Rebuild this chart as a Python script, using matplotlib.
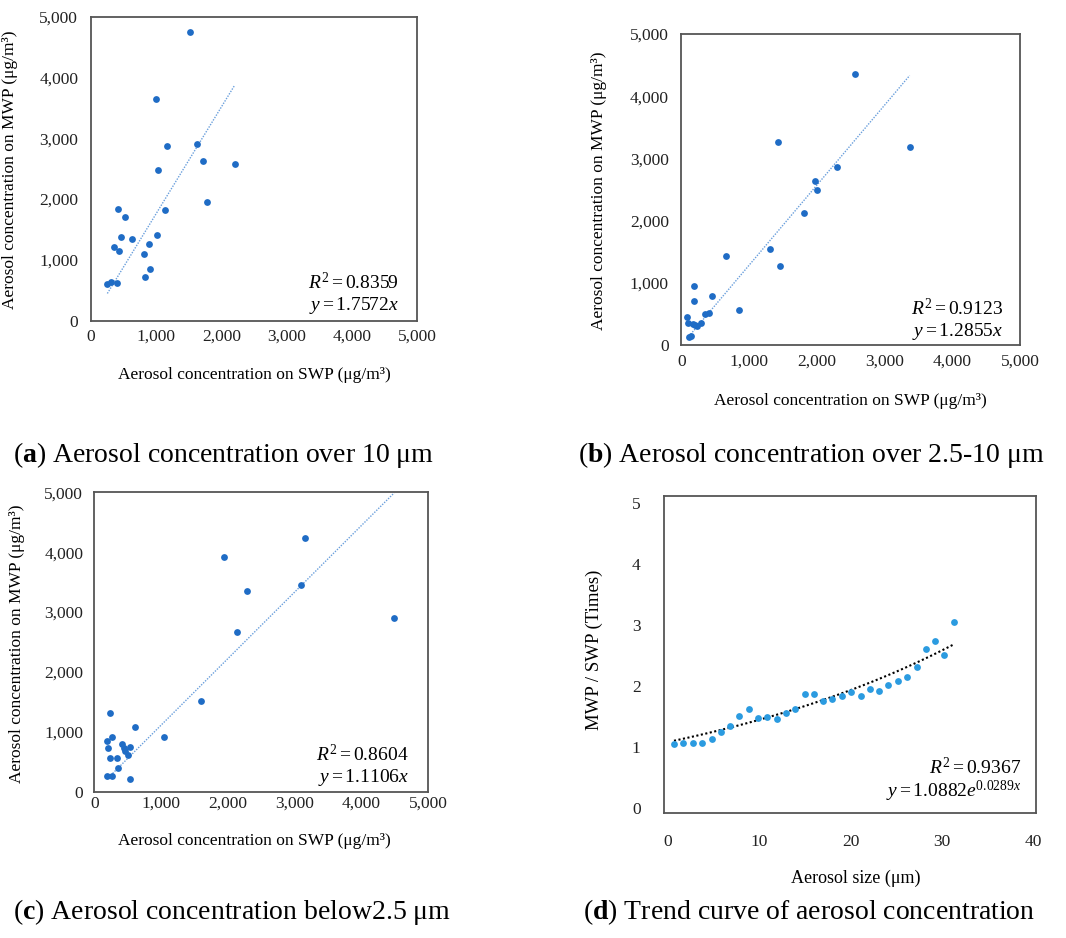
import matplotlib
matplotlib.use('Agg')
import matplotlib.pyplot as plt
from matplotlib.ticker import FuncFormatter
import numpy as np

plt.rcParams['font.family'] = ['Liberation Serif', 'DejaVu Serif']
plt.rcParams['mathtext.fontset'] = 'custom'
plt.rcParams['mathtext.rm'] = 'Liberation Serif'
plt.rcParams['mathtext.it'] = 'Liberation Serif:italic'
plt.rcParams['mathtext.bf'] = 'Liberation Serif:bold'

# (a) over 10 um
a_swp = [1520, 1000, 1173, 1633, 1714, 2204, 1026, 1786, 1133, 418, 531, 469,
         633, 1010, 898, 357, 429, 811, 908, 837, 255, 316, 398]
a_mwp = [4742, 3646, 2873, 2900, 2621, 2582, 2473, 1952, 1820, 1837, 1711, 1376,
         1349, 1404, 1266, 1206, 1146, 1096, 850, 724, 598, 641, 625]
a_slope, a_r2 = 1.7572, 0.8359

# (b) 2.5-10 um
b_swp = [2559, 1427, 3371, 2293, 1978, 2003, 1811, 1309, 655, 1452, 182, 458,
         192, 856, 404, 344, 84, 290, 94, 167, 226, 200, 138, 113]
b_mwp = [4352, 3260, 3180, 2869, 2645, 2489, 2125, 1547, 1435, 1279, 953, 798,
         717, 573, 519, 498, 460, 364, 353, 343, 316, 330, 150, 139]
b_slope, b_r2 = 1.2855, 0.9123

# (c) below 2.5 um
c_swp = [3151, 1950, 3090, 2281, 4492, 2136, 1603, 241, 603, 1050, 261, 186,
         412, 211, 538, 447, 457, 508, 231, 337, 362, 186, 266, 533]
c_mwp = [4232, 3925, 3458, 3357, 2901, 2661, 1514, 1308, 1075, 919, 913, 852,
         796, 729, 746, 724, 685, 607, 557, 557, 401, 262, 262, 206]
c_slope, c_r2 = 1.1106, 0.8604

# (d) ratio vs size
d_size = [0.66, 1.69, 2.72, 3.75, 4.78, 5.81, 6.81, 7.80, 8.83, 9.86, 10.89,
          11.89, 12.95, 13.95, 14.98, 15.97, 17.0, 17.99, 19.02, 20.05, 21.09,
          22.12, 23.15, 24.14, 25.17, 26.2, 27.23, 28.22, 29.25, 30.28, 31.28]
d_ratio = [1.05, 1.07, 1.08, 1.07, 1.14, 1.25, 1.35, 1.51, 1.63, 1.48, 1.49,
           1.46, 1.56, 1.63, 1.87, 1.87, 1.76, 1.79, 1.84, 1.90, 1.85,
           1.95, 1.92, 2.02, 2.08, 2.15, 2.31, 2.62, 2.74, 2.51, 3.05]
d_a, d_b, d_r2 = 1.0882, 0.0289, 0.9367

W, H = 1066, 938
fig = plt.figure(figsize=(W / 100, H / 100), dpi=100)


def box(x0, y0, x1, y1):
    return [x0 / W, 1 - y1 / H, (x1 - x0) / W, (y1 - y0) / H]


def fx(px, py):
    return px / W, 1 - py / H


dot_col = '#1f6cc5'
line_col = '#6a9fdc'
spine_col = '#555555'
comma = FuncFormatter(lambda v, p: f'{v:,.0f}')


def conc_panel(rect, swp, mwp, slope, r2, xpad, ypad, xl, yl, ann):
    ax = fig.add_axes(rect)
    ax.scatter(swp, mwp, s=24, color=dot_col, zorder=3, linewidths=0)
    xs = np.array([min(swp), max(swp)])
    ax.plot(xs, slope * xs, color=line_col, linestyle=(0, (1, 1)), lw=1.0)
    ax.set_xlim(0, 5000)
    ax.set_ylim(0, 5000)
    ax.set_xticks(range(0, 5001, 1000))
    ax.set_yticks(range(0, 5001, 1000))
    ax.xaxis.set_major_formatter(comma)
    ax.yaxis.set_major_formatter(comma)
    ax.tick_params(axis='x', length=0, pad=xpad, labelsize=12.5, colors='#222222')
    ax.tick_params(axis='y', length=0, pad=ypad, labelsize=12.5, colors='#222222')
    for s in ax.spines.values():
        s.set_color(spine_col)
        s.set_linewidth(1.3)
    ax.set_xlabel('Aerosol concentration on SWP (μg/m³)', fontsize=12.5)
    ax.set_ylabel('Aerosol concentration on MWP (μg/m³)', fontsize=12.5)
    ax.xaxis.set_label_coords(*fx(*xl), transform=fig.transFigure)
    ax.yaxis.set_label_coords(*fx(*yl), transform=fig.transFigure)
    fig.text(*fx(ann[0], ann[1]), r'$R^2 = %.4f$' % r2, ha='right', va='center', fontsize=14)
    fig.text(*fx(ann[0], ann[2]), r'$y = %.4fx$' % slope, ha='right', va='center', fontsize=14)
    return ax


conc_panel(box(90.7, 16.7, 417.3, 320.7), a_swp, a_mwp, a_slope, a_r2,
           6, 9, (254, 367), (18, 170), (399, 283, 306))
conc_panel(box(681.3, 34, 1020, 345.3), b_swp, b_mwp, b_slope, b_r2,
           6, 9, (850, 393), (607, 191), (1003, 308, 331))
conc_panel(box(94.3, 492.3, 428, 791.7), c_swp, c_mwp, c_slope, c_r2,
           3, 8, (254, 833), (25, 644), (409, 754, 777))

# (d)
ax = fig.add_axes(box(664.3, 496, 1036, 813.3))
ax.scatter(d_size, d_ratio, s=24, color='#2b9be0', zorder=3, linewidths=0)
xs = np.linspace(min(d_size), max(d_size), 100)
ax.plot(xs, d_a * np.exp(d_b * xs), color='black', linestyle=(0, (1, 1.2)), lw=1.5)
ax.set_xlim(-0.4, 40.3)
ax.set_ylim(-0.08, 5.12)
ax.set_xticks(range(0, 41, 10))
ax.set_yticks(range(0, 6))
ax.tick_params(axis='x', length=0, pad=15, labelsize=12.5, colors='#222222')
ax.tick_params(axis='y', length=0, pad=17, labelsize=12.5, colors='#222222')
for s in ax.spines.values():
    s.set_color(spine_col)
    s.set_linewidth(1.3)
ax.set_xlabel('Aerosol size (μm)', fontsize=13)
ax.set_ylabel('MWP / SWP (Times)', fontsize=13.5)
ax.xaxis.set_label_coords(*fx(856, 870), transform=fig.transFigure)
ax.yaxis.set_label_coords(*fx(603, 650), transform=fig.transFigure)
fig.text(*fx(1021.7, 767), r'$R^2 = %.4f$' % d_r2, ha='right', va='center', fontsize=14)
fig.text(*fx(1021.7, 791), r'$y = %.4fe^{%.4fx}$' % (d_a, d_b), ha='right', va='center', fontsize=14)

# captions
cap = 20
fig.text(*fx(13, 455), r'($\mathbf{a}$) Aerosol concentration over 10 μm', fontsize=cap, va='center')
fig.text(*fx(578, 455), r'($\mathbf{b}$) Aerosol concentration over 2.5-10 μm', fontsize=cap, va='center')
fig.text(*fx(13, 912), r'($\mathbf{c}$) Aerosol concentration below2.5 μm', fontsize=cap, va='center')
fig.text(*fx(583, 912), r'($\mathbf{d}$) Trend curve of aerosol concentration', fontsize=cap, va='center')

fig.savefig('out.png', dpi=100)
